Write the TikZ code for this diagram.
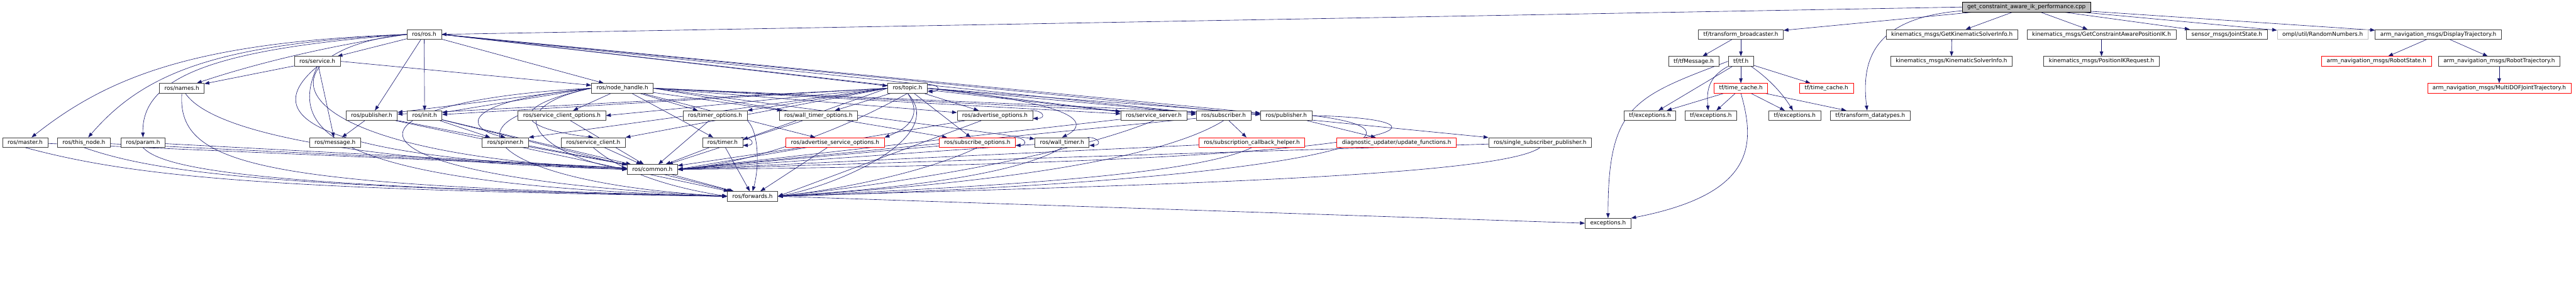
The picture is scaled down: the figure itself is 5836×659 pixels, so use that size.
\documentclass[tikz,border=0pt]{standalone}
\usepackage{fontspec}
\newfontfamily\dxfont{DejaVu Sans}
\usetikzlibrary{arrows.meta,backgrounds}
\definecolor{edgeblue}{HTML}{191970}
\definecolor{boxgray}{HTML}{404040}
\definecolor{rootgray}{HTML}{BFBFBF}

\begin{document}
\begin{tikzpicture}[x=1pt, y=-1pt,
    hdr/.style={rectangle, draw=boxgray, line width=1pt, fill=white, minimum height=22pt,
        inner xsep=11.5pt, inner ysep=0pt, font=\dxfont\fontsize{12.7}{14}\selectfont},
    hdrred/.style={hdr, draw=red},
    hdrgray/.style={hdr, draw=rootgray},
    rootbox/.style={hdr, draw=black, fill=rootgray},
    dep/.style={-{Triangle[length=11pt,width=8pt]}, draw=edgeblue, fill=none, line width=0.9pt}
]
    \useasboundingbox (0,0) rectangle (5836,659);

    % row 0 and 1
    \node[rootbox] (root) at (4591,16) {get\_constraint\_aware\_ik\_performance.cpp};
    \node[hdr] (ros) at (961,78) {ros/ros.h};
    \node[hdr] (tfbc) at (3944,78) {tf/transform\_broadcaster.h};
    \node[hdr] (getksi) at (4422,78) {kinematics\_msgs/GetKinematicSolverInfo.h};
    \node[hdr] (getcapik) at (4761,78) {kinematics\_msgs/GetConstraintAwarePositionIK.h};
    \node[hdr] (jointstate) at (5045,78) {sensor\_msgs/JointState.h};
    \node[hdrgray] (rng) at (5262,78) {ompl/util/RandomNumbers.h};
    \node[hdr] (disptraj) at (5524,78) {arm\_navigation\_msgs/DisplayTrajectory.h};

    % row 2
    \node[hdr] (service) at (719,139) {ros/service.h};
    \node[hdr] (tfmsg) at (3837,139) {tf/tfMessage.h};
    \node[hdr] (tftf) at (3944,139) {tf/tf.h};
    \node[hdr] (ksi) at (4421,139) {kinematics\_msgs/KinematicSolverInfo.h};
    \node[hdr] (ikreq) at (4761,139) {kinematics\_msgs/PositionIKRequest.h};
    \node[hdrred] (robotstate) at (5384,139) {arm\_navigation\_msgs/RobotState.h};
    \node[hdr] (robottraj) at (5662,139) {arm\_navigation\_msgs/RobotTrajectory.h};

    % row 3
    \node[hdr] (names) at (412,200) {ros/names.h};
    \node[hdr] (nodehandle) at (1410,200) {ros/node\_handle.h};
    \node[hdr] (topic) at (2056,200) {ros/topic.h};
    \node[hdrred] (timecacheA) at (3944,200) {tf/time\_cache.h};
    \node[hdrred] (timecacheB) at (4138,200) {tf/time\_cache.h};
    \node[hdrred] (multidof) at (5662,200) {arm\_navigation\_msgs/MultiDOFJointTrajectory.h};

    % row 4
    \node[hdr] (pubA) at (842,262) {ros/publisher.h};
    \node[hdr] (init) at (962,262) {ros/init.h};
    \node[hdr] (scopts) at (1273,262) {ros/service\_client\_options.h};
    \node[hdr] (timeropts) at (1620,262) {ros/timer\_options.h};
    \node[hdr] (wtimeropts) at (1854,262) {ros/wall\_timer\_options.h};
    \node[hdr] (advopts) at (2254,262) {ros/advertise\_options.h};
    \node[hdr] (srvserver) at (2614,262) {ros/service\_server.h};
    \node[hdr] (subscriber) at (2772,262) {ros/subscriber.h};
    \node[hdr] (pubB) at (2914,262) {ros/publisher.h};
    \node[hdr] (tfexcA) at (3738,262) {tf/exceptions.h};
    \node[hdr] (tfexcB) at (3876,262) {tf/exceptions.h};
    \node[hdr] (tfexcC) at (4066,262) {tf/exceptions.h};
    \node[hdr] (tfdata) at (4237,262) {tf/transform\_datatypes.h};

    % row 5
    \node[hdr] (master) at (57,323) {ros/master.h};
    \node[hdr] (thisnode) at (190,323) {ros/this\_node.h};
    \node[hdr] (param) at (324,323) {ros/param.h};
    \node[hdr] (message) at (759,323) {ros/message.h};
    \node[hdr] (spinner) at (1145,323) {ros/spinner.h};
    \node[hdr] (srvclient) at (1344,323) {ros/service\_client.h};
    \node[hdr] (timer) at (1637,323) {ros/timer.h};
    \node[hdrred] (advsrvopts) at (1892,323) {ros/advertise\_service\_options.h};
    \node[hdrred] (subopts) at (2214,323) {ros/subscribe\_options.h};
    \node[hdr] (walltimer) at (2406,323) {ros/wall\_timer.h};
    \node[hdrred] (subcbhelper) at (2836,323) {ros/subscription\_callback\_helper.h};
    \node[hdrred] (updfun) at (3164,323) {diagnostic\_updater/update\_functions.h};
    \node[hdr] (sspub) at (3489,323) {ros/single\_subscriber\_publisher.h};

    % rows 6 to 8
    \node[hdr] (common) at (1478,384) {ros/common.h};
    \node[hdr] (forwards) at (1705,445) {ros/forwards.h};
    \node[hdr] (exceptions) at (3643,506) {exceptions.h};

    \begin{scope}[on background layer]
    % from the source file
    \draw[dep] (root.west) -- (ros.east);
    \draw[dep] (root) -- (tfbc);
    \draw[dep] ([yshift=3pt]root.south west) .. controls (4250,40) and (4215,130) .. ([xshift=-7pt]tfdata.north);
    \draw[dep] (root) -- (getksi);
    \draw[dep] (root) -- (getcapik);
    \draw[dep] (root) -- (jointstate);
    \draw[dep] (root) -- (rng);
    \draw[dep] (root) -- (disptraj);
    \draw[dep] (getksi) -- (ksi);
    \draw[dep] (getcapik) -- (ikreq);
    \draw[dep] (disptraj) -- (robotstate);
    \draw[dep] (disptraj) -- (robottraj);
    \draw[dep] (robottraj) -- (multidof);

    % tf
    \draw[dep] (tfbc) -- (tfmsg);
    \draw[dep] (tfbc) -- (tftf);
    \draw[dep] (tftf) -- (timecacheA);
    \draw[dep] (tftf) -- (timecacheB);
    \draw[dep] (tftf) -- (tfexcA);
    \draw[dep] (tftf.south west) .. controls (3870,175) and (3866,205) .. ([xshift=-6pt]tfexcB.north);
    \draw[dep] ([xshift=-6pt]tftf.south east) .. controls (4010,180) and (4040,215) .. ([xshift=-4pt]tfexcC.north);
    \draw[dep] (tftf.west) .. controls (3700,220) and (3643,240) .. (exceptions.north);
    \draw[dep] (timecacheA) -- (tfexcA);
    \draw[dep] (timecacheA) -- (tfexcB);
    \draw[dep] (timecacheA) -- (tfexcC);
    \draw[dep] (timecacheA) -- (tfdata);
    \draw[dep] (timecacheA.south) .. controls (3978,330) and (3975,440) .. (exceptions.north east);

    % ros/ros.h
    \draw[dep] (ros) -- (service);
    \draw[dep] (ros) -- (pubA);
    \draw[dep] (ros) -- (init);
    \draw[dep] (ros) -- (nodehandle);
    \draw[dep] (ros.east) -- (topic);
    \draw[dep] (ros.east) -- (srvserver);
    \draw[dep] (ros.east) -- (subscriber);
    \draw[dep] (ros.east) -- (pubB);
    \draw[dep] (ros.east) -- (sspub);
    \draw[dep] (ros.west) .. controls (700,110) and (530,160) .. (names);
    \draw[dep] (ros.west) .. controls (450,95) and (250,170) .. (master);
    \draw[dep] (ros.west) .. controls (500,100) and (330,160) .. (thisnode);
    \draw[dep] (ros.west) .. controls (500,110) and (320,170) .. (param.north);
    \draw[dep] (ros.west) .. controls (600,110) and (560,345) .. (common.west);

    % ros/service.h
    \draw[dep] (service) -- (names);
    \draw[dep] (service) -- (message);
    \draw[dep] (service.east) -- (nodehandle);
    \draw[dep] (service.south) .. controls (600,250) and (650,355) .. (common.west);
    \draw[dep] (service.south) .. controls (650,300) and (750,420) .. (forwards.west);

    % left column
    \draw[dep] (names) .. controls (480,300) and (800,365) .. (common.west);
    \draw[dep] (names.south) .. controls (400,380) and (600,420) .. (forwards.west);
    \draw[dep] (master) -- (common);
    \draw[dep] (master.south) .. controls (300,400) and (600,430) .. (forwards.west);
    \draw[dep] (thisnode) -- (common);
    \draw[dep] (thisnode.south) .. controls (350,390) and (600,425) .. (forwards.west);
    \draw[dep] (param) -- (common);
    \draw[dep] (param.south) .. controls (370,385) and (600,425) .. (forwards.west);
    \draw[dep] (pubA) -- (message);
    \draw[dep] (pubA) -- (common);
    \draw[dep] (pubA) -- (forwards);
    \draw[dep] (init) -- (spinner);
    \draw[dep] (init) -- (common);
    \draw[dep] (init) -- (forwards);

    % ros/node_handle.h
    \draw[dep] (nodehandle.west) -- (pubA);
    \draw[dep] (nodehandle.west) -- (init);
    \draw[dep] (nodehandle) -- (scopts);
    \draw[dep] (nodehandle.west) .. controls (1040,230) and (1050,290) .. (spinner.north);
    \draw[dep] (nodehandle.west) .. controls (1150,240) and (1160,290) .. (srvclient.north);
    \draw[dep] (nodehandle) -- (timeropts);
    \draw[dep] (nodehandle) -- (wtimeropts);
    \draw[dep] (nodehandle) -- (timer);
    \draw[dep] (nodehandle.east) -- (advopts);
    \draw[dep] (nodehandle) -- (advsrvopts);
    \draw[dep] (nodehandle.east) -- (subopts);
    \draw[dep] (nodehandle.east) -- (walltimer);
    \draw[dep] (nodehandle.east) -- (srvserver);
    \draw[dep] (nodehandle.east) -- (subscriber);
    \draw[dep] (nodehandle.east) -- (pubB);
    \draw[dep] (nodehandle.west) .. controls (1100,250) and (1250,360) .. (common.west);
    \draw[dep] (nodehandle.west) .. controls (750,230) and (700,400) .. (forwards.west);

    % ros/topic.h
    \draw[dep] ([yshift=-3pt]topic.north east) .. controls +(30,0) and +(30,0) .. ([yshift=4pt]topic.south east);
    \draw[dep] (topic.west) -- (pubA);
    \draw[dep] (topic.west) -- (init);
    \draw[dep] (topic.west) -- (scopts.east);
    \draw[dep] (topic.west) -- (spinner.north east);
    \draw[dep] (topic.west) -- (srvclient.north east);
    \draw[dep] (topic.west) -- (timeropts.north east);
    \draw[dep] (topic) -- (wtimeropts);
    \draw[dep] (topic.west) -- ([yshift=-5pt]timer.north east);
    \draw[dep] (topic) -- (advopts);
    \draw[dep] (topic.south) .. controls (2090,260) and (2060,290) .. (advsrvopts.north east);
    \draw[dep] (topic) -- (subopts);
    \draw[dep] (topic.east) .. controls (2500,240) and (2450,290) .. (walltimer.north);
    \draw[dep] (topic.east) -- (srvserver);
    \draw[dep] (topic.east) -- (subscriber);
    \draw[dep] (topic.east) -- (pubB);
    \draw[dep] (topic.south) .. controls (1900,300) and (1700,370) .. (common.east);
    \draw[dep] (topic.south) .. controls (2150,310) and (1900,420) .. (forwards.east);

    % row 4 and row 5 down to common and forwards
    \draw[dep] (scopts) -- (common);
    \draw[dep] (scopts.west) .. controls (1050,320) and (1200,420) .. (forwards.west);
    \draw[dep] (spinner) -- (common);
    \draw[dep] (srvclient) -- (common);
    \draw[dep] (srvclient.south) .. controls (1420,400) and (1550,430) .. (forwards.west);
    \draw[dep] (timeropts) -- (common);
    \draw[dep] (timeropts.south east) .. controls (1720,300) and (1720,380) .. (forwards.north);
    \draw[dep] (wtimeropts) -- (common);
    \draw[dep] ([xshift=-4pt]timer.north east) .. controls +(28,0) and +(28,0) .. ([yshift=5pt]timer.south east);
    \draw[dep] (timer) -- (common);
    \draw[dep] (timer) -- (forwards);
    \draw[dep] (advsrvopts) -- (common);
    \draw[dep] (advsrvopts) -- (forwards);
    \draw[dep] ([xshift=-4pt]advopts.north east) .. controls +(30,0) and +(30,0) .. ([yshift=5pt]advopts.south east);
    \draw[dep] (advopts) -- (common.east);
    \draw[dep] (advopts) -- (forwards.east);
    \draw[dep] ([xshift=-4pt]subopts.north east) .. controls +(28,0) and +(28,0) .. ([yshift=5pt]subopts.south east);
    \draw[dep] (subopts) -- (common.east);
    \draw[dep] (subopts.south) .. controls (2100,390) and (1900,430) .. (forwards.east);
    \draw[dep] ([xshift=-4pt]walltimer.north east) .. controls +(28,0) and +(28,0) .. ([yshift=5pt]walltimer.south east);
    \draw[dep] (walltimer) -- (common.east);
    \draw[dep] (walltimer.south) .. controls (2300,400) and (2000,430) .. (forwards.east);
    \draw[dep] (srvserver) -- (common.east);
    \draw[dep] (srvserver.south) .. controls (2400,360) and (2000,420) .. (forwards.east);
    \draw[dep] (subscriber) -- (subcbhelper);
    \draw[dep] (subscriber) -- (common.east);
    \draw[dep] (subscriber.south) .. controls (2600,380) and (2100,425) .. (forwards.east);
    \draw[dep] (subcbhelper) -- (common.east);
    \draw[dep] (subcbhelper.south) .. controls (2700,400) and (2200,425) .. (forwards.east);
    \draw[dep] (pubB) -- (updfun);
    \draw[dep] (pubB.east) .. controls (3350,270) and (3250,370) .. (common.east);
    \draw[dep] (pubB.east) .. controls (3300,300) and (3000,410) .. (forwards.east);
    \draw[dep] (sspub) -- (common.east);
    \draw[dep] (sspub.south) .. controls (3400,400) and (2600,420) .. (forwards.east);

    % bottom
    \draw[dep] (common) -- (forwards);
    \draw[dep] (forwards.east) -- (exceptions.west);
    \end{scope}
\end{tikzpicture}
\end{document}
